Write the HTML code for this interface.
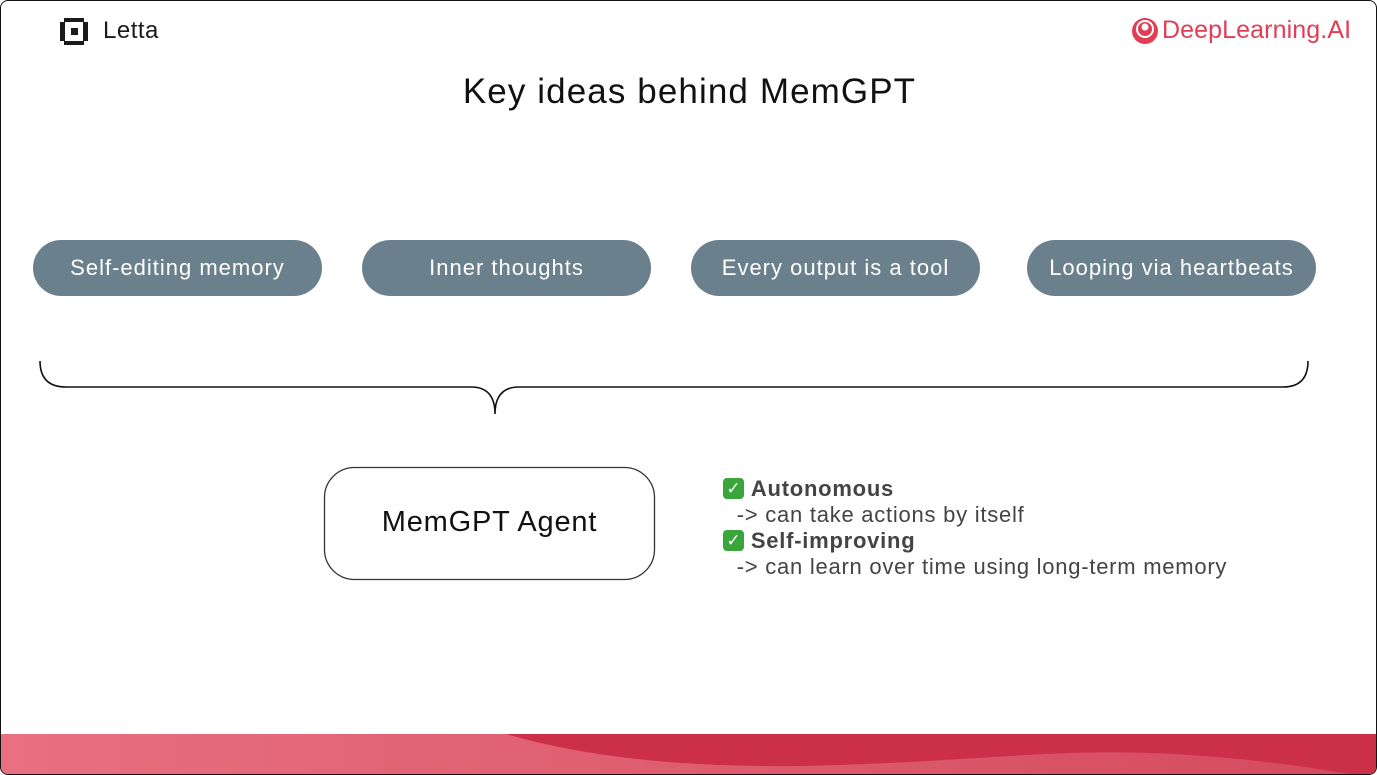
<!DOCTYPE html>
<html><head><meta charset="utf-8"><style>
html,body{margin:0;padding:0;width:1377px;height:775px;overflow:hidden;background:#fff;font-family:"Liberation Sans",sans-serif}
.frame{position:absolute;left:0;top:0;width:1375px;height:773px;border:1px solid #111;border-radius:8px;overflow:hidden;background:#fff}
.pill{position:absolute;top:239px;height:56px;border-radius:28px;background:#6b808d;color:#fff;font-size:22px;letter-spacing:1px;display:flex;align-items:center;justify-content:center}
.t{position:absolute;white-space:nowrap}
.ck{display:inline-block;width:21px;height:21px;background:#3aa53a;border-radius:4px;color:#fff;text-align:center;font-size:17px;line-height:21px;vertical-align:top;margin-top:2px;letter-spacing:0}
.l{height:26px;line-height:26px}
</style></head><body>
<div class="frame">
<svg style="position:absolute;left:0;top:0" width="1377" height="775">
  <g fill="#1a1a1a">
    <rect x="63" y="17" width="20" height="4"/><rect x="63" y="40" width="20" height="4"/>
    <rect x="59" y="21" width="5" height="19"/><rect x="82" y="21" width="5" height="19"/>
    <rect x="70" y="27" width="7" height="7"/>
  </g>
  <circle cx="1144" cy="30" r="13" fill="#e23d55"/>
  <circle cx="1144" cy="28" r="8" fill="none" stroke="#fff" stroke-width="2"/>
  <circle cx="1144" cy="26" r="3.5" fill="#fff"/>
  <path d="M39 360 Q39 386 65 386 L470 386 Q494 386 494 413 Q494 386 518 386 L1282 386 Q1307 386 1307 360" fill="none" stroke="#111" stroke-width="1.6"/>
  <rect x="323.5" y="466.5" width="330" height="112" rx="30" fill="#fff" stroke="#333" stroke-width="1.3"/>
  <defs><linearGradient id="g" x1="0" x2="1"><stop offset="0" stop-color="#e87080"/><stop offset="1" stop-color="#d44a5e"/></linearGradient></defs>
  <rect x="0" y="733" width="1377" height="42" fill="#cc2f48"/>
  <path d="M0 733 L505 733 C600 760 700 766 800 765 C950 762 1050 748 1150 752 C1250 756 1320 768 1360 775 L0 775 Z" fill="url(#g)"/>
</svg>
<div class="t" style="left:102px;top:16px;font-size:24px;letter-spacing:0.5px;color:#1a1a1a">Letta</div>
<div class="t" style="left:1161px;top:15px;font-size:25px;letter-spacing:0.1px;color:#e23d55">DeepLearning.AI</div>
<div class="t" style="left:0;width:1377px;text-align:center;top:71px;font-size:35px;letter-spacing:1.1px;color:#111">Key ideas behind MemGPT</div>
<div class="pill" style="left:32px;width:289px">Self-editing memory</div>
<div class="pill" style="left:361px;width:289px">Inner thoughts</div>
<div class="pill" style="left:690px;width:289px">Every output is a tool</div>
<div class="pill" style="left:1026px;width:289px">Looping via heartbeats</div>
<div class="t" style="left:323px;width:331px;text-align:center;top:505px;font-size:29px;letter-spacing:0.8px;color:#111">MemGPT Agent</div>
<div class="t" style="left:722px;top:475px;font-size:22px;letter-spacing:0.75px;color:#444">
<div class="l"><span class="ck">✓</span> <b>Autonomous</b></div>
<div class="l">&nbsp;&nbsp;-&gt; can take actions by itself</div>
<div class="l"><span class="ck">✓</span> <b>Self-improving</b></div>
<div class="l">&nbsp;&nbsp;-&gt; can learn over time using long-term memory</div>
</div>
</div>
</body></html>
